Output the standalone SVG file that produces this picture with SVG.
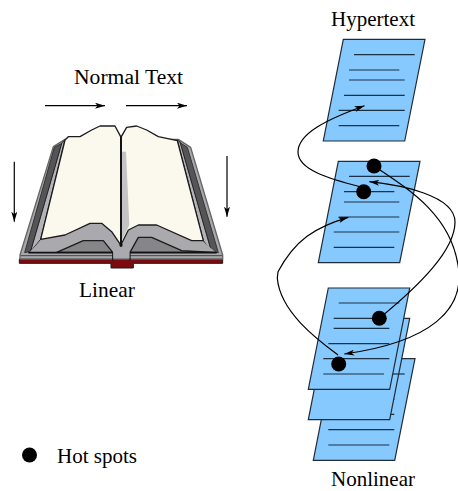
<svg xmlns="http://www.w3.org/2000/svg" width="458" height="491" viewBox="0 0 458 491">
<style>
text{font-family:"Liberation Serif","Times New Roman",serif;font-size:21px;fill:#000}
.page{fill:#85c9fe;stroke:#222c36;stroke-width:1.2}
.ln{stroke:#1c3244;stroke-width:1.2;fill:none}
.c{fill:none;stroke:#000;stroke-width:1.2}
.spot{fill:#000}
</style>
<defs>
<marker id="ah" viewBox="0 0 10 6" refX="10" refY="3" markerWidth="10" markerHeight="6" markerUnits="userSpaceOnUse" orient="auto-start-reverse"><path d="M0 0L10 3L0 6L2.500 3Z" fill="#000"/></marker>
</defs>
<rect width="458" height="491" fill="#fff"/>
<g id="book" transform="scale(.33333) translate(0 270)" stroke-linejoin="round">
<path d="M58 507H668V520H400V534H333V520H58Z" fill="#7b0b10" stroke="#1a1a1a" stroke-width="3"/>
<path d="M60 495L160 170L195 148H535L572 172L668 495V507H60Z" fill="#a8a8ac" stroke="#666" stroke-width="4"/>
<path d="M74 488L163 172L186 160L92 484Z" fill="#555558" stroke="#333" stroke-width="3"/>
<path d="M655 488L562 172L540 158L634 484Z" fill="#555558" stroke="#333" stroke-width="3"/>
<path d="M92 484L186 158L195 150L122 448ZM634 484L540 156L532 150L610 452Z" fill="#b4b4b8" stroke="#222" stroke-width="3"/>
<path d="M90 485L125 448L195 435L270 400H305L335 425L363 465L385 420L415 405H470L575 452L610 455L645 485V492H90Z" fill="#a9a9ae"/>
<path d="M170 487L250 452H310L338 487ZM390 487L415 442H455L545 482L645 487Z" fill="#86868a" stroke="#1c1c1c" stroke-width="4"/>
<path d="M85 488H338M390 488H650" stroke="#111" stroke-width="5" fill="none"/>
<path d="M62 497H338M390 497H666" stroke="#444" stroke-width="3" fill="none"/>
<path d="M338 512V488M390 512V488" stroke="#222" stroke-width="4" fill="none"/>
<path d="M340 505V480L363 465L388 480V505Z" fill="#a9a9ae"/>
<path d="M122 448L195 150L205 140H240L275 120L300 108H345L362 140V465L335 425L305 400H270L195 435Z" fill="#fbf8ee" stroke="#1c1c1c" stroke-width="4"/>
<path d="M364 140L380 112L410 108L440 120L475 140L532 152L610 452L575 452L470 405H415L385 420L364 462Z" fill="#fbf8ee" stroke="#1c1c1c" stroke-width="4"/>
<path d="M366 185H378L388 405L366 450Z" fill="#c4c4c4"/>
<path d="M363 140V470" stroke="#111" stroke-width="4" fill="none"/>
<circle cx="363" cy="465" r="5" fill="#111"/>
</g>
<g id="page-back">
<polygon class="page" points="333.300,358.700 415,358.700 394.700,460.300 313.300,460.300"/>
<path class="ln" d="M338.700 399.300H394.300M333.700 414.300H394.300M328.300 429.700H394.300M328.300 445H389.300"/>
</g>
<g id="page-mid">
<polygon class="page" points="328.300,318.300 409.700,318.300 389.700,419.700 308.300,419.700"/>
<path class="ln" d="M380 374H404.700"/>
</g>
<g id="page-front">
<polygon class="page" points="328.300,288 409.700,288 389.700,389.300 308.300,389.300"/>
<path class="ln" d="M338.700 303H399.300M333.700 318.300H380M333.700 328.300H389.300M328.300 343.700H389.300M323.300 358.700H389.300M323.300 374H384"/>
</g>
<g id="page-second">
<polygon class="page" points="338.300,161.300 420,161.300 399.700,262.700 318.300,262.700"/>
<path class="ln" d="M349 176.300H409.700M344 191.700H394.300M344 202H399.300M338.700 217H399.300M333.700 232H399.300M333.700 247.300H394.300"/>
</g>
<g id="page-top">
<polygon class="page" points="343.300,39.300 425,39.300 404.700,141 323.300,141"/>
<path class="ln" d="M354 54.700H414.700M349 70H399.300M349 80H404.700M344 95.300H404.700M338.700 110.300H404.700M338.700 125.700H399.300"/>
</g>
<g id="connectors">
<path class="c" marker-end="url(#ah)" d="M361 187C330 179 298 170 298 152C298 134 325 120 364.500 105.700"/>
<path class="c" marker-start="url(#ah)" d="M369.300 181.700C400 185 455 195 455 222C455 250 420 285 379.300 318.300"/>
<path class="c" marker-end="url(#ah)" d="M374 166C410 190 450 215 458 265C466 310 430 342 344.300 354"/>
<path class="c" marker-end="url(#ah)" d="M338 355C318 340 280 312 277.300 278L278 271.700C295 240 315 227 348.300 217.300"/>
<path class="c" d="M45 105.700H105" marker-end="url(#ah)"/>
<path class="c" d="M126 105.700H187" marker-end="url(#ah)"/>
<path class="c" d="M14.300 161.700V221.700" marker-end="url(#ah)"/>
<path class="c" d="M227 156V216.700" marker-end="url(#ah)"/>
</g>
<g id="spots">
<circle class="spot" cx="374" cy="166" r="7.500"/>
<circle class="spot" cx="363.700" cy="191.700" r="7.500"/>
<circle class="spot" cx="379.300" cy="318.300" r="7.500"/>
<circle class="spot" cx="338.700" cy="364" r="7.500"/>
</g>
<g id="legend">
<circle class="spot" cx="29.500" cy="455" r="7.500"/>
<text x="57" y="463">Hot spots</text>
</g>
<g id="labels">
<text x="74" y="84" style="font-size:21.600px">Normal Text</text>
<text x="79" y="297" style="font-size:21.400px">Linear</text>
<text x="331" y="26">Hypertext</text>
<text x="331" y="486">Nonlinear</text>
</g>
</svg>
